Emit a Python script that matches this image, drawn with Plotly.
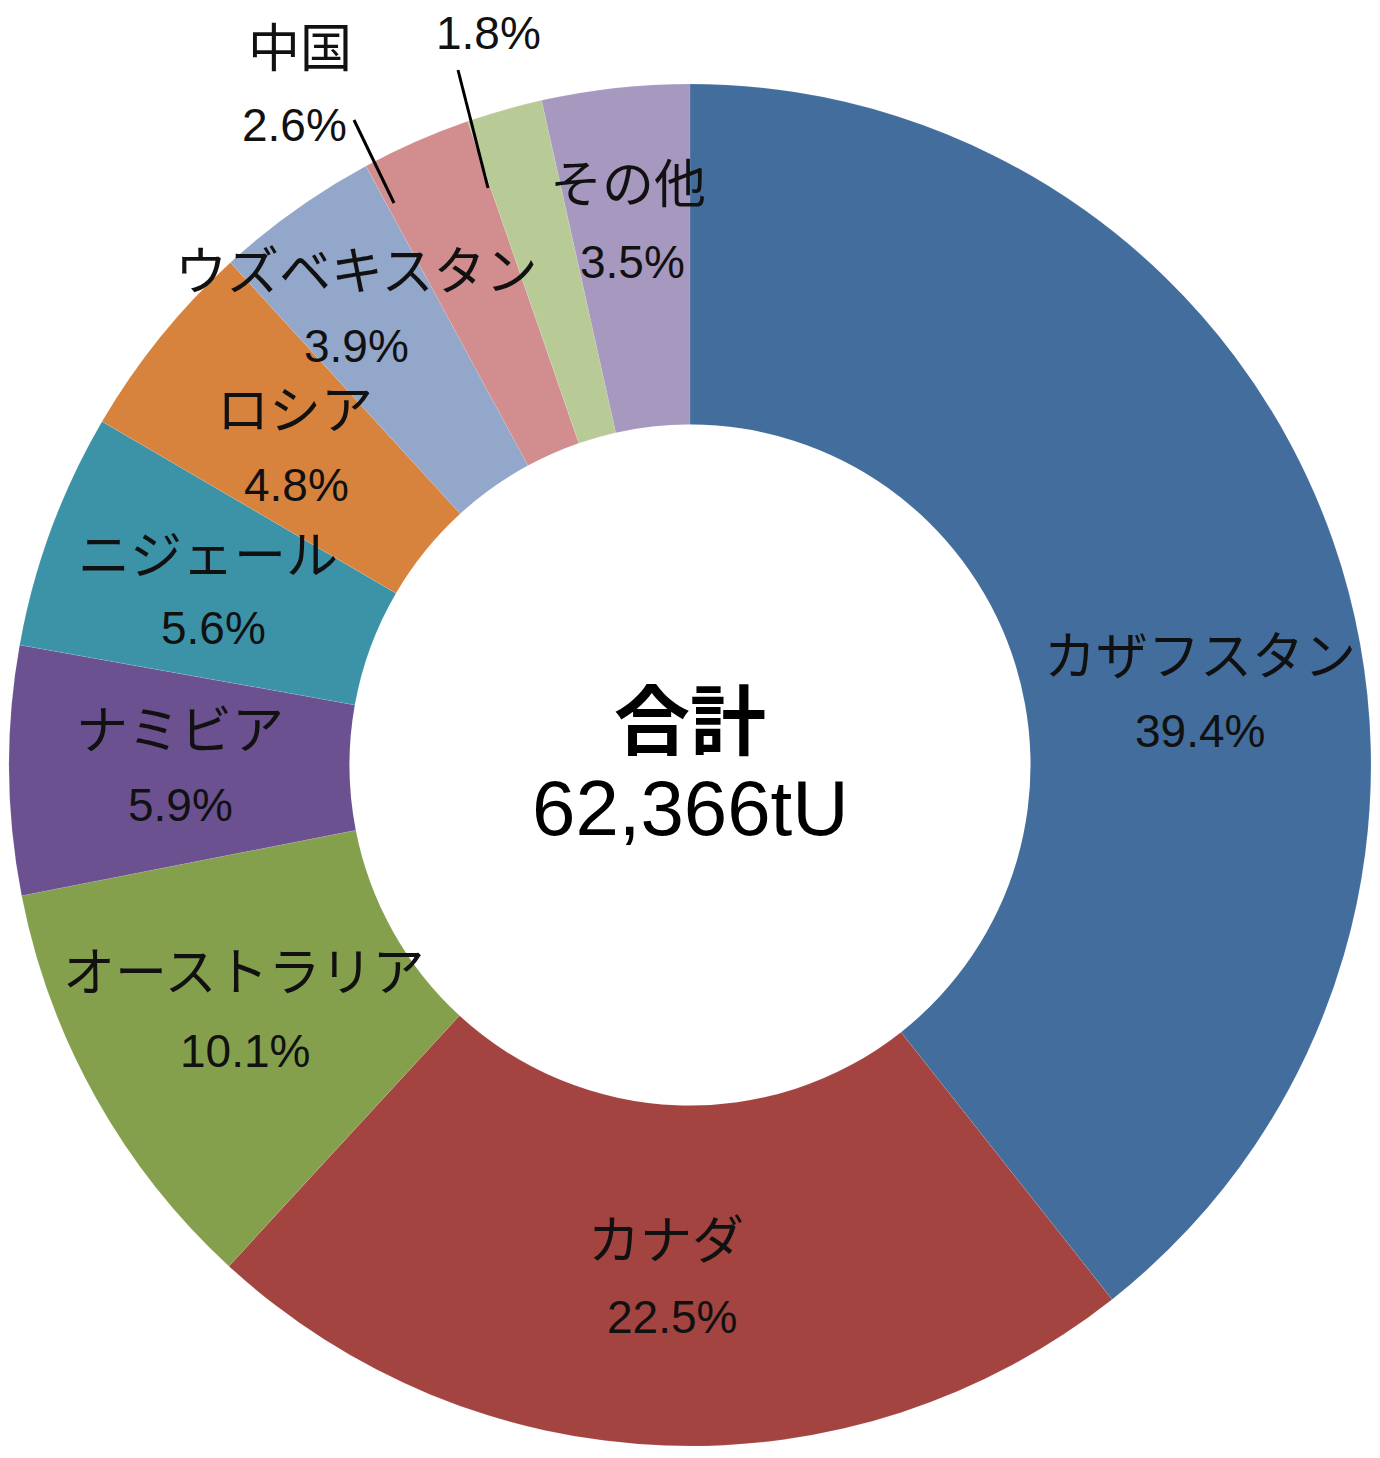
import plotly.graph_objects as go

W, H = 1380, 1458

# ---- data ----
countries = ["カザフスタン", "カナダ", "オーストラリア", "ナミビア", "ニジェール",
             "ロシア", "ウズベキスタン", "中国", "米国", "その他"]
shares = [39.4, 22.5, 10.1, 5.9, 5.6, 4.8, 3.9, 2.6, 1.8, 3.5]
name_shown = [True, True, True, True, True, True, True, True, False, True]
colors = ["#426D9C", "#A34441", "#85A04C", "#6B5190", "#3C93A8",
          "#D8833D", "#93A7CA", "#D28E8E", "#B8CB97", "#A698BF"]
total_label = "62,366tU"
center_title = "合計"

# ---- label layout (pixel anchors: name, percent) ----
name_pos = [(1200, 652), (666, 1236), (243, 968), (180, 726), (208, 551),
            (295, 406), (356, 267), (300, 44), None, (628, 181)]
pct_pos = [(1200, 731), (672, 1317), (245, 1051), (180, 805), (213, 628),
           (296, 485), (356, 346), (294, 125), (488, 33), (632, 262)]
leaders = {7: ((354, 120), (394, 203)), 8: ((458, 70), (488, 188))}

# pie geometry
cx, cy, R = 690, 765, 681

def px(x):
    return x / W

def py(y):
    return 1 - y / H

fig = go.Figure(go.Pie(
    labels=countries,
    values=shares,
    sort=False,
    direction="clockwise",
    rotation=0,
    hole=0.5,
    marker=dict(colors=colors, line=dict(color="rgba(255,255,255,0.2)", width=0.5)),
    textinfo="none",
    hoverinfo="label+percent",
    domain=dict(x=[px(cx - R), px(cx + R)], y=[py(cy + R), py(cy - R)]),
    showlegend=False,
))

jp_font = "Noto Sans CJK JP, sans-serif"
num_font = "Liberation Sans Narrow, Arial Narrow, Liberation Sans, Arial, sans-serif"

ann = []
for i, c in enumerate(countries):
    if name_shown[i] and name_pos[i] is not None:
        x, y = name_pos[i]
        ann.append(dict(x=px(x), y=py(y), xref="paper", yref="paper", text=c,
                        showarrow=False, xanchor="center", yanchor="middle",
                        borderpad=0,
                        font=dict(family=jp_font, size=52, color="#111111")))
    x, y = pct_pos[i]
    ann.append(dict(x=px(x), y=py(y), xref="paper", yref="paper",
                    text=f"{shares[i]:.1f}%",
                    showarrow=False, xanchor="center", yanchor="middle",
                    borderpad=0,
                    font=dict(family=num_font, size=46, color="#111111")))

ann.append(dict(x=px(cx), y=py(716), xref="paper", yref="paper",
                text=f"<b>{center_title}</b>", showarrow=False,
                xanchor="center", yanchor="middle",
                font=dict(family=jp_font, size=76, color="#000000")))
ann.append(dict(x=px(cx), y=py(808), xref="paper", yref="paper",
                text=total_label, showarrow=False,
                xanchor="center", yanchor="middle",
                font=dict(family=num_font, size=78, color="#000000")))

shapes = []
for i, ((x0, y0), (x1, y1)) in leaders.items():
    shapes.append(dict(type="line", xref="paper", yref="paper",
                       x0=px(x0), y0=py(y0), x1=px(x1), y1=py(y1),
                       line=dict(color="#000000", width=3)))

fig.update_layout(
    width=W, height=H,
    margin=dict(l=0, r=0, t=0, b=0),
    paper_bgcolor="white",
    plot_bgcolor="white",
    annotations=ann,
    shapes=shapes,
)

fig.write_html("out.html")
